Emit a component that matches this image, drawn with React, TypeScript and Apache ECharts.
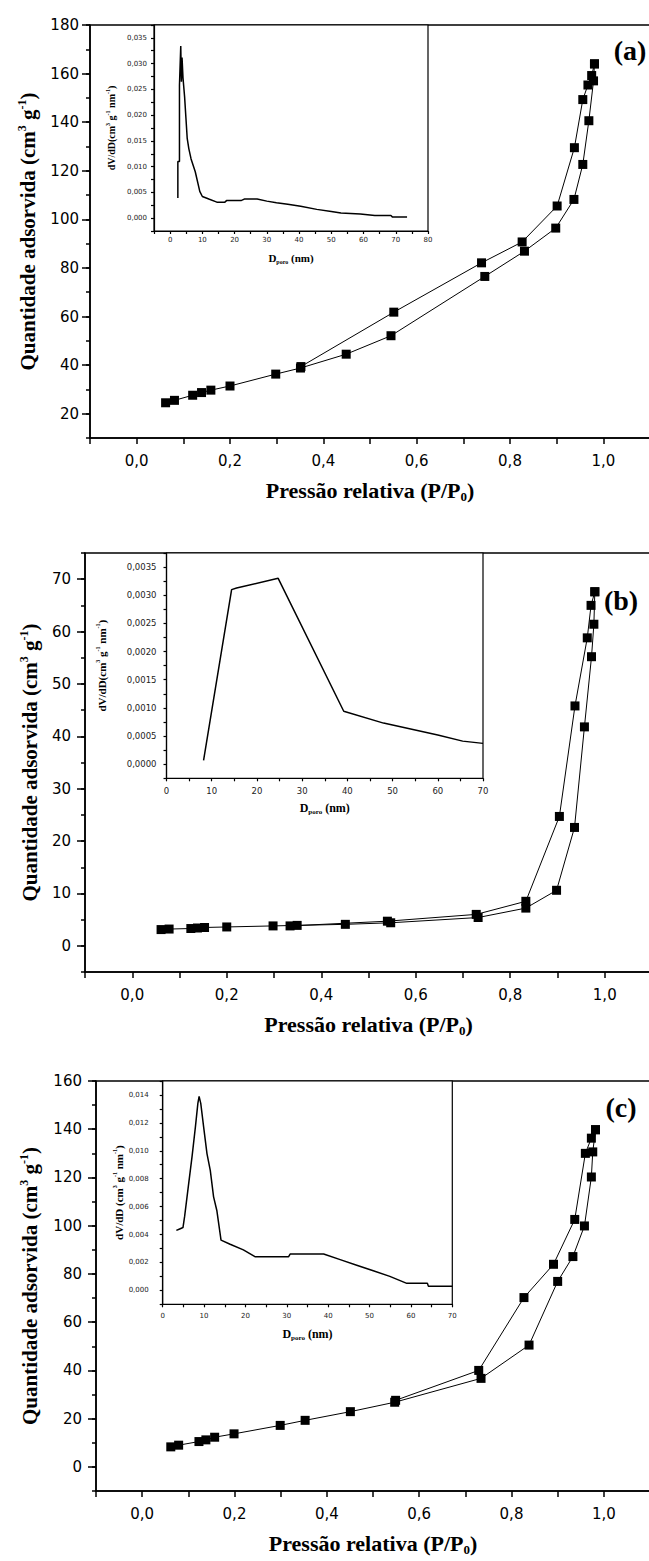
import React, { useEffect, useRef } from 'react';
import * as echarts from 'echarts';

const SANS = '"DejaVu Sans", "Liberation Sans", sans-serif';
const SERIF = '"Liberation Serif", "Times New Roman", serif';
const INK = '#000';

// ---------- Panel (a): isotherm [P/P0, quantity] ----------
const adsorptionA = [
  [0.062, 24.5], [0.081, 25.5], [0.120, 27.6], [0.139, 28.7], [0.159, 29.7], [0.200, 31.4],
  [0.298, 36.3], [0.351, 38.8], [0.449, 44.5], [0.545, 52.1], [0.746, 76.5], [0.831, 86.9],
  [0.898, 96.4], [0.937, 108.2], [0.956, 122.6], [0.969, 140.6], [0.979, 157.0], [0.981, 164.0],
];
const desorptionA = [
  [0.981, 164.0], [0.975, 159.2], [0.967, 155.3], [0.956, 149.3], [0.938, 129.5], [0.901, 105.5],
  [0.826, 90.7], [0.739, 82.1], [0.551, 61.8], [0.352, 39.4],
];
// pore size distribution [D (nm), dV/dD]
const poreA = [
  [2.4, 0.0039], [2.4, 0.0110], [2.9, 0.0110], [2.9, 0.0258], [3.3, 0.0334], [3.5, 0.0265],
  [3.7, 0.0312], [4.0, 0.0272], [4.5, 0.0235], [4.9, 0.0195], [5.3, 0.0155], [5.8, 0.0135],
  [6.5, 0.0115], [7.8, 0.0090], [9.2, 0.0052], [10.0, 0.0042], [12.0, 0.0037], [14.5, 0.0031],
  [17.0, 0.0031], [17.5, 0.0034], [22.0, 0.0034], [23.0, 0.0037], [27.0, 0.0037], [30.0, 0.0033],
  [33.0, 0.0030], [36.5, 0.0027], [40.5, 0.0023], [45.5, 0.0017], [50.0, 0.0013], [53.0, 0.0010],
  [59.0, 0.0008], [63.5, 0.0005], [68.5, 0.0005], [69.0, 0.0002], [73.5, 0.0002],
];

// ---------- Panel (b) ----------
const adsorptionB = [
  [0.061, 3.1], [0.078, 3.2], [0.124, 3.3], [0.138, 3.4], [0.153, 3.5], [0.200, 3.6],
  [0.298, 3.8], [0.349, 3.9], [0.451, 4.1], [0.547, 4.4], [0.732, 5.4], [0.833, 7.2],
  [0.898, 10.6], [0.936, 22.6], [0.957, 41.8], [0.972, 55.2], [0.977, 61.4], [0.979, 67.6],
];
const desorptionB = [
  [0.979, 67.6], [0.971, 65.0], [0.963, 58.8], [0.937, 45.8], [0.904, 24.7], [0.833, 8.5],
  [0.728, 6.0], [0.540, 4.7], [0.334, 3.8],
];
const poreB = [
  [8.2, 0.00007], [14.4, 0.00310], [15.5, 0.00313], [24.7, 0.00330], [39.2, 0.00094],
  [48.0, 0.00073], [60.0, 0.00052], [65.5, 0.00041], [70.0, 0.00037],
];

// ---------- Panel (c) ----------
const adsorptionC = [
  [0.062, 8.3], [0.079, 9.0], [0.123, 10.5], [0.138, 11.2], [0.157, 12.3], [0.199, 13.7],
  [0.299, 17.2], [0.353, 19.3], [0.451, 22.9], [0.547, 26.8], [0.734, 36.7], [0.838, 50.5],
  [0.900, 76.9], [0.933, 87.2], [0.958, 99.9], [0.973, 120.2], [0.976, 130.6], [0.982, 139.8],
];
const desorptionC = [
  [0.982, 139.8], [0.973, 136.3], [0.960, 130.0], [0.937, 102.6], [0.891, 84.0], [0.827, 70.2],
  [0.729, 40.0], [0.549, 27.6],
];
const poreC = [
  [3.3, 0.0043], [4.1, 0.0044], [4.9, 0.0045], [5.3, 0.0053], [6.3, 0.0077], [7.1, 0.0096],
  [7.9, 0.0117], [8.5, 0.0134], [8.8, 0.0139], [9.2, 0.0134], [9.9, 0.0117], [10.7, 0.0098],
  [11.5, 0.0086], [12.3, 0.0067], [13.1, 0.0057], [14.1, 0.0036], [16.3, 0.0033], [19.5, 0.0029],
  [22.4, 0.0024], [30.4, 0.0024], [30.8, 0.0026], [38.9, 0.0026], [42.9, 0.0022], [46.9, 0.0018],
  [50.9, 0.0014], [54.9, 0.0010], [59.0, 0.0005], [64.0, 0.0005], [64.2, 0.0003], [70.0, 0.0003],
];

// major (labelled) tick values of the main y axes
const yMajorA = [20, 40, 60, 80, 100, 120, 140, 160, 180];
const yMajorB = [0, 10, 20, 30, 40, 50, 60, 70];
const yMajorC = [0, 20, 40, 60, 80, 100, 120, 140, 160];
const panelLabels = ['(a)', '(b)', '(c)'];

const comma = (v: number, d: number) => v.toFixed(d).replace('.', ',');

const line = { color: INK, width: 1.5 };

function mainGrid(left: number, top: number, width: number, height: number) {
  return {
    left, top, width, height, show: true, borderColor: INK, borderWidth: 1.5,
    backgroundColor: 'transparent', containLabel: false, outerBoundsMode: 'none',
  };
}
function insetGrid(left: number, top: number, width: number, height: number) {
  return {
    left, top, width, height, show: true, borderColor: INK, borderWidth: 1.2,
    backgroundColor: '#fff', containLabel: false, outerBoundsMode: 'none',
  };
}

const bigRich = (size: number) => ({
  t: { fontFamily: SERIF, fontWeight: 'bold', fontSize: size, lineHeight: size + 3, color: INK },
  sup: { fontFamily: SERIF, fontWeight: 'bold', fontSize: Math.round(size * 0.58), lineHeight: Math.round(size * 0.55), verticalAlign: 'top', color: INK },
  sub: { fontFamily: SERIF, fontWeight: 'bold', fontSize: Math.round(size * 0.58), lineHeight: Math.round(size * 0.55), verticalAlign: 'bottom', color: INK },
});

function mainX(gridIndex: number) {
  return {
    type: 'value', gridIndex, min: -0.1, max: 1.1, interval: 0.1, position: 'bottom',
    axisLine: { show: true, onZero: false, lineStyle: line },
    axisTick: { show: true, inside: false, length: 6, lineStyle: line },
    axisLabel: {
      show: true, margin: 15, color: INK, fontFamily: SANS, fontSize: 15,
      formatter: (v: number) => {
        const k = Math.round(v * 10);
        return k % 2 === 0 ? comma(k / 10, 1) : '';
      },
    },
    splitLine: { show: false },
    name: '{t|Pressão relativa (P/P}{sub|0}{t|)}',
    nameLocation: 'middle', nameGap: 40,
    nameTextStyle: { fontFamily: SERIF, fontWeight: 'bold', fontSize: 22, color: INK, rich: bigRich(22) },
  };
}

function mainY(gridIndex: number, min: number, max: number, interval: number, every: number, nameGap: number, margin: number) {
  return {
    type: 'value', gridIndex, min, max, interval, position: 'left',
    axisLine: { show: true, onZero: false, lineStyle: line },
    axisTick: { show: true, inside: false, length: 4, lineStyle: line },
    axisLabel: {
      show: true, margin, color: INK, fontFamily: SANS, fontSize: 15,
      formatter: (v: number) => (Math.round(v) % every === 0 ? String(Math.round(v)) : ''),
    },
    splitLine: { show: false },
    name: '{t|Quantidade adsorvida (cm}{sup|3}{t| g}{sup|-1}{t|)}',
    nameLocation: 'middle', nameRotate: 90, nameGap,
    nameTextStyle: { fontFamily: SERIF, fontWeight: 'bold', fontSize: 21, color: INK, rich: bigRich(21) },
  };
}

// second y axis carrying only the longer (major) ticks, placed on the left edge
function majorY(gridIndex: number, min: number, max: number, interval: number, width: number, ticks: number[]) {
  return {
    type: 'value', gridIndex, min, max, interval, position: 'right', offset: -width,
    axisLine: { show: false, onZero: false },
    axisTick: { show: true, inside: true, length: 8, lineStyle: line, customValues: ticks },
    axisLabel: { show: false },
    splitLine: { show: false },
  };
}

function insetX(gridIndex: number, min: number, max: number, fontSize: number, margin: number, nameGap: number, nameSize: number) {
  return {
    type: 'value', gridIndex, min, max, interval: 5, position: 'bottom',
    axisLine: { show: true, onZero: false, lineStyle: { color: INK, width: 1.2 } },
    axisTick: { show: true, inside: false, length: 3, lineStyle: { color: INK, width: 1.2 } },
    axisLabel: {
      show: true, margin, color: '#222', fontFamily: SANS, fontSize,
      formatter: (v: number) => (Math.round(v) % 10 === 0 ? String(Math.round(v)) : ''),
    },
    splitLine: { show: false },
    name: '{t|D}{sub|poro}{t| (nm)}',
    nameLocation: 'middle', nameGap,
    nameTextStyle: { fontFamily: SERIF, fontWeight: 'bold', fontSize: nameSize, color: INK, rich: bigRich(nameSize) },
  };
}

function insetY(gridIndex: number, min: number, max: number, interval: number, dec: number, fontSize: number,
  margin: number, nameGap: number, nameSize: number, name: string) {
  return {
    type: 'value', gridIndex, min, max, interval, position: 'left',
    axisLine: { show: true, onZero: false, lineStyle: { color: INK, width: 1.2 } },
    axisTick: { show: true, inside: false, length: 3, lineStyle: { color: INK, width: 1.2 } },
    axisLabel: {
      show: true, margin, color: '#222', fontFamily: SANS, fontSize,
      formatter: (v: number) => {
        const k = Math.round(v / interval);
        return k % 2 === 0 && k >= 0 ? comma(v, dec) : '';
      },
    },
    splitLine: { show: false },
    name, nameLocation: 'middle', nameRotate: 90, nameGap,
    nameTextStyle: { fontFamily: SERIF, fontWeight: 'bold', fontSize: nameSize, color: INK, rich: bigRich(nameSize) },
  };
}

function isoSeries(data: number[][], xi: number, yi: number) {
  return {
    type: 'line', xAxisIndex: xi, yAxisIndex: yi, data, symbol: 'rect', symbolSize: 9,
    showSymbol: true, itemStyle: { color: INK }, lineStyle: { color: INK, width: 1 }, z: 3,
  };
}
function poreSeries(data: number[][], xi: number, yi: number) {
  return {
    type: 'line', xAxisIndex: xi, yAxisIndex: yi, data, showSymbol: false, symbol: 'none',
    lineStyle: { color: INK, width: 1.5 }, z: 4,
  };
}

const insetName = '{t|dV/dD(cm}{sup|3}{t| g}{sup|-1}{t| nm}{sup|-1}{t|)}';
const insetNameC = '{t|dV/dD (cm}{sup|3}{t| g}{sup|-1}{t| nm}{sup|-1}{t|)}';

const option = {
  animation: false,
  backgroundColor: '#fff',
  grid: [
    mainGrid(90, 25, 560, 413),
    insetGrid(154, 25, 274, 206),
    mainGrid(85, 553, 567, 419),
    insetGrid(166.5, 553, 316.5, 225.3),
    mainGrid(96, 1081, 554, 410),
    insetGrid(162.7, 1081, 289.6, 223.3),
  ],
  xAxis: [
    mainX(0),
    insetX(1, -5, 80, 7, 5, 20, 11),
    mainX(2),
    insetX(3, 0, 70, 8.5, 8, 22, 12),
    mainX(4),
    insetX(5, 0, 70, 7, 8, 22, 12),
  ],
  yAxis: [
    mainY(0, 10, 180, 10, 20, 50, 11),
    insetY(1, -0.0025, 0.0375, 0.0025, 3, 7, 7, 36, 10, insetName),
    mainY(2, -5, 75, 5, 10, 43, 14),
    insetY(3, -0.00025, 0.00375, 0.00025, 4, 8.5, 10, 58, 11, insetName),
    mainY(4, -10, 160, 10, 20, 54, 14),
    insetY(5, -0.001, 0.015, 0.001, 3, 7, 14, 37, 11, insetNameC),
    majorY(0, 10, 180, 10, 560, yMajorA),
    majorY(2, -5, 75, 5, 567, yMajorB),
    majorY(4, -10, 160, 10, 554, yMajorC),
  ],
  series: [
    isoSeries(adsorptionA, 0, 0),
    isoSeries(desorptionA, 0, 0),
    poreSeries(poreA, 1, 1),
    isoSeries(adsorptionB, 2, 2),
    isoSeries(desorptionB, 2, 2),
    poreSeries(poreB, 3, 3),
    isoSeries(adsorptionC, 4, 4),
    isoSeries(desorptionC, 4, 4),
    poreSeries(poreC, 5, 5),
  ],
  graphic: [
    [630, 50], [621, 600], [621, 1107],
  ].map(([x, y], i) => ({
    type: 'text', x, y, z: 10,
    style: {
      text: panelLabels[i], fill: INK, font: `bold 28px ${SERIF}`,
      textAlign: 'center', textVerticalAlign: 'middle', verticalAlign: 'middle', align: 'center',
    },
  })),
};

export default function App() {
  const ref = useRef<HTMLDivElement>(null);
  useEffect(() => {
    const chart = echarts.init(ref.current as HTMLDivElement, null, { renderer: 'svg' });
    chart.setOption(option as any);
    return () => chart.dispose();
  }, []);
  return (
    <div style={{ position: 'fixed', left: 0, top: 0, width: 649, height: 1561, overflow: 'hidden', background: '#fff' }}>
      <div ref={ref} style={{ width: 660, height: 1561 }} />
    </div>
  );
}
